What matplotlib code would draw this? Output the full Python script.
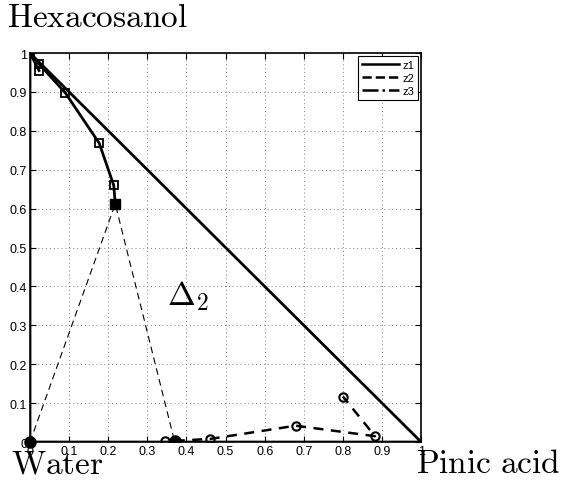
import matplotlib
matplotlib.use("Agg")
import matplotlib.pyplot as plt
from matplotlib.lines import Line2D

plt.rcParams['mathtext.fontset'] = 'cm'
plt.rcParams['font.family'] = ['Liberation Sans', 'DejaVu Sans']

# triangle edges (z1)
tri_x = [0, 1, 0, 0]
tri_y = [0, 0, 1, 0]

# organic (hexacosanol-rich) phase, squares
org_x = [0.0, 0.023, 0.09, 0.177, 0.214, 0.218]
org_y = [1.0, 0.972, 0.898, 0.768, 0.660, 0.612]
org2_x = [0.0, 0.023]
org2_y = [1.0, 0.955]

# aqueous phase, circles
aq_x = [0.37, 0.461, 0.679, 0.882, 0.80]
aq_y = [0.003, 0.008, 0.042, 0.015, 0.117]
aq_extra_x = [0.346]
aq_extra_y = [0.002]

# three-phase region Delta_2 (thin dashed)
d2_x = [0.0, 0.218, 0.37]
d2_y = [0.0, 0.612, 0.0]

ticks = [0, 0.1, 0.2, 0.3, 0.4, 0.5, 0.6, 0.7, 0.8, 0.9, 1]
tick_labels = ['0', '0.1', '0.2', '0.3', '0.4', '0.5', '0.6', '0.7', '0.8', '0.9', '1']

fig = plt.figure(figsize=(5.62, 4.89), dpi=100)
ax = fig.add_axes([0.0534, 0.094, 0.696, 0.7955])

ax.plot(tri_x, tri_y, color='black', lw=2, solid_capstyle='butt')
ax.plot(d2_x, d2_y, color='black', lw=0.8, linestyle=(0, (6, 4)))
ax.plot(org_x, org_y, color='black', lw=2, marker='s', markersize=6,
        markerfacecolor='none', markeredgewidth=1.3)
ax.plot(org2_x, org2_y, color='black', lw=2, marker='s', markersize=6,
        markerfacecolor='none', markeredgewidth=1.3)
ax.plot([org_x[-1]], [org_y[-1]], 's', color='black', markersize=7)
ax.plot(aq_x, aq_y, color='black', lw=1.8, linestyle=(0, (4, 3)), marker='o',
        markersize=6, markerfacecolor='none', markeredgewidth=1.5)
ax.plot(aq_extra_x, aq_extra_y, 'o', color='black', markersize=6,
        markerfacecolor='none', markeredgewidth=1.5)
ax.plot([aq_x[0]], [aq_y[0]], 'o', color='black', markersize=8)
ax.plot([0], [0], 'o', color='black', markersize=8, clip_on=False)

ax.set_xlim(0, 1)
ax.set_ylim(0, 1)
ax.set_xticks(ticks)
ax.set_yticks(ticks)
ax.set_xticklabels(tick_labels)
ax.set_yticklabels(tick_labels)
ax.tick_params(direction='in', length=4, labelsize=9, top=True, right=True, pad=2)
ax.grid(True, linestyle=(0, (1, 3)), color='gray', lw=0.7)
for sp in ax.spines.values():
    sp.set_linewidth(1.2)

handles = [Line2D([], [], color='black', lw=1.8, linestyle='-'),
           Line2D([], [], color='black', lw=1.8, linestyle='--'),
           Line2D([], [], color='black', lw=1.8, linestyle='-.')]
leg = ax.legend(handles, ['z1', 'z2', 'z3'], loc='upper right', fontsize=8,
                fancybox=False, framealpha=1, edgecolor='black',
                handlelength=3.3, handletextpad=0.3, borderpad=0.35,
                labelspacing=0.25, borderaxespad=0.3)
leg.get_frame().set_linewidth(0.8)

ax.text(0.35, 0.355, r'$\Delta_2$', fontsize=24)
fig.text(0.012, 0.963, r'$\mathrm{Hexacosanol}$', fontsize=24, va='center')
fig.text(0.02, 0.05, r'$\mathrm{Water}$', fontsize=24, va='center')
fig.text(0.998, 0.05, r'$\mathrm{Pinic\ acid}$', fontsize=24, va='center', ha='right')

plt.savefig('out.png', dpi=100)
